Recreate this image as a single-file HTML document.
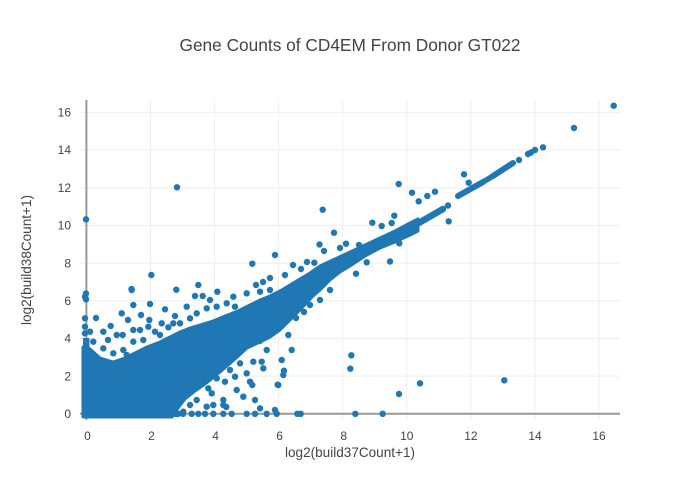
<!DOCTYPE html>
<html><head><meta charset="utf-8"><style>
html,body{margin:0;padding:0;background:#fff;}
svg{display:block;}
text{font-family:"Liberation Sans",sans-serif;fill:#444;}
</style></head><body>
<svg width="700" height="500" viewBox="0 0 700 500" xmlns="http://www.w3.org/2000/svg">
<rect width="700" height="500" fill="#fff"/>
<g stroke="#eeeeee" stroke-width="1">
<line x1="150.5" y1="100" x2="150.5" y2="420"/>
<line x1="214.6" y1="100" x2="214.6" y2="420"/>
<line x1="278.6" y1="100" x2="278.6" y2="420"/>
<line x1="342.7" y1="100" x2="342.7" y2="420"/>
<line x1="406.8" y1="100" x2="406.8" y2="420"/>
<line x1="470.9" y1="100" x2="470.9" y2="420"/>
<line x1="535" y1="100" x2="535" y2="420"/>
<line x1="599" y1="100" x2="599" y2="420"/>
<line x1="80" y1="376.1" x2="620" y2="376.1"/>
<line x1="80" y1="338.4" x2="620" y2="338.4"/>
<line x1="80" y1="300.8" x2="620" y2="300.8"/>
<line x1="80" y1="263.1" x2="620" y2="263.1"/>
<line x1="80" y1="225.4" x2="620" y2="225.4"/>
<line x1="80" y1="187.7" x2="620" y2="187.7"/>
<line x1="80" y1="150" x2="620" y2="150"/>
<line x1="80" y1="112.4" x2="620" y2="112.4"/>
</g>
<g stroke="#999" stroke-width="2">
<line x1="86.4" y1="100" x2="86.4" y2="420"/>
<line x1="80" y1="413.8" x2="620" y2="413.8"/>
</g>
<g font-size="12" text-anchor="middle">
<text x="87.5" y="440">0</text>
<text x="151.5" y="440">2</text>
<text x="215.6" y="440">4</text>
<text x="279.6" y="440">6</text>
<text x="343.7" y="440">8</text>
<text x="406.8" y="440">10</text>
<text x="470.9" y="440">12</text>
<text x="535" y="440">14</text>
<text x="599" y="440">16</text>
</g>
<g font-size="12" text-anchor="end">
<text x="71" y="418">0</text>
<text x="71" y="380.3">2</text>
<text x="71" y="342.6">4</text>
<text x="71" y="305">6</text>
<text x="71" y="267.3">8</text>
<text x="71" y="229.6">10</text>
<text x="71" y="191.9">12</text>
<text x="71" y="154.2">14</text>
<text x="71" y="116.6">16</text>
</g>
<text x="350" y="51" font-size="17.5" text-anchor="middle" textLength="341" lengthAdjust="spacingAndGlyphs">Gene Counts of CD4EM From Donor GT022</text>
<text x="350" y="457" font-size="14" text-anchor="middle" textLength="130" lengthAdjust="spacingAndGlyphs">log2(build37Count+1)</text>
<text transform="translate(31,260) rotate(-90)" font-size="14" text-anchor="middle" textLength="130" lengthAdjust="spacingAndGlyphs">log2(build38Count+1)</text>

<g fill="#1f77b4" stroke="none">
<polygon stroke="#1f77b4" stroke-width="3" stroke-linejoin="round" points="83,417 83,347 90,349 100,358 113,362 125,358 135,353 147,347 160,342 170,337 180,332 190,328 200,325 213,321 225,316 238,311 248,306 260,300 270,296 280,291 295,282 310,273 320,266 335,259 350,252 365,245 380,238 395,231 410,223 418,219 418,231 410,235 395,242 380,248 365,256 350,266 340,272 330,280 320,290 313,296 300,310 290,320 280,330 270,337 260,342 247,348 235,359 220,372 205,384 195,391 185,399 178,408 172,417"/>
<rect x="83" y="338" width="6.5" height="15"/>
<polyline fill="none" stroke="#1f77b4" stroke-width="6.5" stroke-linecap="round" points="410,228 443,209"/>
<polyline fill="none" stroke="#1f77b4" stroke-width="6" stroke-linecap="round" points="458,196 483,182"/>
<polyline fill="none" stroke="#1f77b4" stroke-width="5.5" stroke-linecap="round" points="483,182 493,176"/>
<polyline fill="none" stroke="#1f77b4" stroke-width="6" stroke-linecap="round" points="493,176 513,163"/>
<polyline fill="none" stroke="#1f77b4" stroke-width="6.5" stroke-linecap="round" points="160,413.8 178,413.8"/>
<g>
<circle cx="448" cy="205.5" r="3.2"/><circle cx="519" cy="160" r="3.2"/><circle cx="528" cy="154" r="3.2"/><circle cx="531" cy="152.5" r="3.2"/><circle cx="535" cy="150" r="3.2"/><circle cx="543" cy="147.3" r="3.2"/><circle cx="574" cy="128" r="3.2"/><circle cx="613.7" cy="105.7" r="3.2"/>
<circle cx="86" cy="219.3" r="3.2"/><circle cx="177" cy="187.3" r="3.2"/><circle cx="151.3" cy="275" r="3.2"/><circle cx="131.5" cy="289" r="3.2"/><circle cx="176.3" cy="289.7" r="3.2"/><circle cx="198.3" cy="285" r="3.2"/><circle cx="86" cy="293.5" r="3.2"/><circle cx="86" cy="299.3" r="3.2"/>
<circle cx="252.3" cy="263.7" r="3.2"/><circle cx="275" cy="255" r="3.2"/><circle cx="256" cy="285" r="3.2"/><circle cx="263" cy="282" r="3.2"/><circle cx="270" cy="278" r="3.2"/><circle cx="293" cy="265" r="3.2"/><circle cx="301" cy="269" r="3.2"/><circle cx="319.5" cy="244.5" r="3.2"/><circle cx="324" cy="251" r="3.2"/><circle cx="322.7" cy="209.7" r="3.2"/><circle cx="334" cy="232.7" r="3.2"/><circle cx="346" cy="243.7" r="3.2"/><circle cx="359" cy="245" r="3.2"/><circle cx="372.3" cy="222.7" r="3.2"/><circle cx="381.7" cy="226" r="3.2"/><circle cx="394.3" cy="215.7" r="3.2"/><circle cx="391.7" cy="223" r="3.2"/><circle cx="390" cy="261.5" r="3.2"/><circle cx="366.7" cy="262.3" r="3.2"/><circle cx="356" cy="273.7" r="3.2"/><circle cx="304" cy="312" r="3.2"/><circle cx="314.3" cy="262.7" r="3.2"/><circle cx="399.3" cy="243.3" r="3.2"/><circle cx="398.7" cy="184" r="3.2"/><circle cx="412" cy="192.7" r="3.2"/><circle cx="427.3" cy="196" r="3.2"/><circle cx="435" cy="191.7" r="3.2"/><circle cx="418.7" cy="201.3" r="3.2"/><circle cx="464" cy="174.3" r="3.2"/><circle cx="468.7" cy="182.7" r="3.2"/><circle cx="448.7" cy="221.3" r="3.2"/><circle cx="285" cy="275" r="3.2"/><circle cx="307" cy="262" r="3.2"/><circle cx="340" cy="248" r="3.2"/><circle cx="330" cy="290" r="3.2"/><circle cx="320" cy="300" r="3.2"/>
<circle cx="85" cy="296.7" r="3.2"/><circle cx="131.7" cy="290" r="3.2"/><circle cx="195" cy="296" r="3.2"/><circle cx="202.7" cy="296" r="3.2"/><circle cx="217.3" cy="291.7" r="3.2"/><circle cx="133.3" cy="305" r="3.2"/><circle cx="150" cy="304" r="3.2"/><circle cx="121.7" cy="313.3" r="3.2"/><circle cx="165" cy="309.3" r="3.2"/><circle cx="186.7" cy="306.7" r="3.2"/><circle cx="85" cy="318.3" r="3.2"/><circle cx="85" cy="326.7" r="3.2"/><circle cx="85" cy="333.3" r="3.2"/><circle cx="90" cy="331.7" r="3.2"/><circle cx="103.3" cy="331.7" r="3.2"/><circle cx="110.7" cy="326" r="3.2"/><circle cx="116.7" cy="335" r="3.2"/><circle cx="122.7" cy="335" r="3.2"/><circle cx="133.3" cy="330" r="3.2"/><circle cx="140" cy="330" r="3.2"/><circle cx="148.3" cy="326.7" r="3.2"/><circle cx="149.3" cy="320" r="3.2"/><circle cx="161.7" cy="323.3" r="3.2"/><circle cx="155" cy="331.7" r="3.2"/><circle cx="168.3" cy="327.3" r="3.2"/><circle cx="173.3" cy="323.3" r="3.2"/><circle cx="180" cy="323.3" r="3.2"/><circle cx="190" cy="318.3" r="3.2"/><circle cx="196.7" cy="313.3" r="3.2"/><circle cx="206.7" cy="308.3" r="3.2"/><circle cx="216.7" cy="306.7" r="3.2"/><circle cx="226.7" cy="303.3" r="3.2"/><circle cx="235" cy="306.7" r="3.2"/><circle cx="233.3" cy="296.7" r="3.2"/><circle cx="246.7" cy="293.3" r="3.2"/><circle cx="260" cy="291.7" r="3.2"/><circle cx="270" cy="290" r="3.2"/><circle cx="93.3" cy="341.7" r="3.2"/><circle cx="103.3" cy="348.3" r="3.2"/><circle cx="113.3" cy="353.3" r="3.2"/><circle cx="126.7" cy="355" r="3.2"/><circle cx="133.3" cy="341.7" r="3.2"/><circle cx="143.3" cy="340" r="3.2"/><circle cx="123.3" cy="350" r="3.2"/><circle cx="96" cy="318" r="3.2"/><circle cx="128" cy="320" r="3.2"/><circle cx="141" cy="315" r="3.2"/><circle cx="175" cy="316" r="3.2"/><circle cx="210" cy="300" r="3.2"/><circle cx="108" cy="340" r="3.2"/><circle cx="160" cy="335" r="3.2"/>
<circle cx="240" cy="363.3" r="3.2"/><circle cx="246.7" cy="373.3" r="3.2"/><circle cx="253.3" cy="361.7" r="3.2"/><circle cx="261.7" cy="361.7" r="3.2"/><circle cx="263.3" cy="368.3" r="3.2"/><circle cx="250" cy="381.7" r="3.2"/><circle cx="236.7" cy="390" r="3.2"/><circle cx="243.3" cy="396.7" r="3.2"/><circle cx="235" cy="376.7" r="3.2"/><circle cx="225" cy="381.7" r="3.2"/><circle cx="216.7" cy="378.3" r="3.2"/><circle cx="211.7" cy="371.7" r="3.2"/><circle cx="208.3" cy="388.3" r="3.2"/><circle cx="211.7" cy="393.3" r="3.2"/><circle cx="223.3" cy="400" r="3.2"/><circle cx="223.3" cy="405" r="3.2"/><circle cx="213.3" cy="405" r="3.2"/><circle cx="206.7" cy="406.7" r="3.2"/><circle cx="260" cy="408.3" r="3.2"/><circle cx="275" cy="410" r="3.2"/><circle cx="281.7" cy="360" r="3.2"/><circle cx="283.3" cy="375" r="3.2"/><circle cx="284" cy="370.7" r="3.2"/><circle cx="291.7" cy="350" r="3.2"/><circle cx="278.3" cy="385" r="3.2"/><circle cx="196.7" cy="400" r="3.2"/><circle cx="193.3" cy="386.7" r="3.2"/><circle cx="200" cy="376.7" r="3.2"/><circle cx="190" cy="405" r="3.2"/><circle cx="183.3" cy="411.7" r="3.2"/><circle cx="261.7" cy="333.3" r="3.2"/><circle cx="271.7" cy="333.3" r="3.2"/><circle cx="288.3" cy="335" r="3.2"/><circle cx="266.7" cy="350" r="3.2"/><circle cx="259.7" cy="341" r="3.2"/><circle cx="252.3" cy="385" r="3.2"/><circle cx="226.3" cy="407" r="3.2"/><circle cx="255" cy="400" r="3.2"/><circle cx="230" cy="370" r="3.2"/><circle cx="296" cy="318" r="3.2"/><circle cx="310" cy="305" r="3.2"/><circle cx="277.7" cy="384.7" r="3.2"/>
<circle cx="183" cy="413.8" r="3.2"/><circle cx="191.7" cy="413.8" r="3.2"/><circle cx="198.3" cy="413.8" r="3.2"/><circle cx="205" cy="413.8" r="3.2"/><circle cx="213.3" cy="413.8" r="3.2"/><circle cx="223.3" cy="413.8" r="3.2"/><circle cx="231.7" cy="413.8" r="3.2"/><circle cx="246.7" cy="413.8" r="3.2"/><circle cx="255" cy="413.8" r="3.2"/><circle cx="266.7" cy="413.8" r="3.2"/><circle cx="276.7" cy="413.8" r="3.2"/><circle cx="297.3" cy="413.8" r="3.2"/><circle cx="300.7" cy="413.8" r="3.2"/><circle cx="355.3" cy="413.8" r="3.2"/><circle cx="382.7" cy="413.8" r="3.2"/>
<circle cx="351.3" cy="355.3" r="3.2"/><circle cx="350.3" cy="368.7" r="3.2"/><circle cx="399" cy="394" r="3.2"/><circle cx="420" cy="383.3" r="3.2"/><circle cx="504.3" cy="380.3" r="3.2"/>
</g>
</g>
</svg>
</body></html>
